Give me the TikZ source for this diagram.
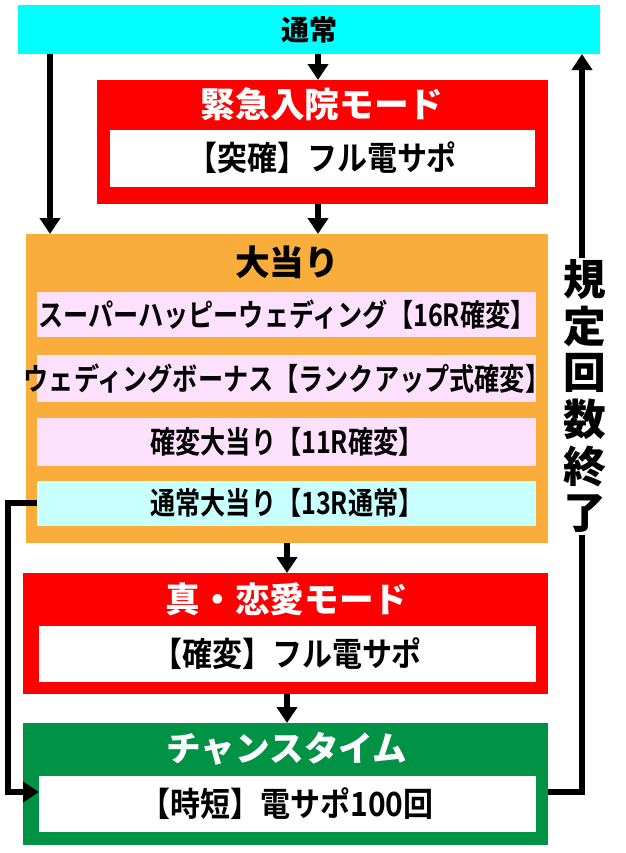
\documentclass[tikz,border=0pt]{standalone}
\usepackage{fontspec}
\newfontfamily\jp{Noto Sans CJK JP Black}
\newfontfamily\jpn[FakeStretch=0.82]{Noto Sans CJK JP Bold}
\newfontfamily\jps[FakeStretch=0.9]{Noto Sans CJK JP Bold}
\usetikzlibrary{arrows.meta}
\definecolor{cy}{HTML}{00FFFF}
\definecolor{rd}{HTML}{FF0000}
\definecolor{og}{HTML}{F9AE3C}
\definecolor{pk}{HTML}{FCE0FC}
\definecolor{lc}{HTML}{C8FFFF}
\definecolor{gr}{HTML}{009245}
\tikzset{
 ttl/.style={font=\jp\fontsize{26}{28}\selectfont,text=white},
 txt/.style={font=\jpn\fontsize{23}{26}\selectfont},
 sub/.style={font=\jps\fontsize{25}{28}\selectfont},
 arr/.style={line width=3.8pt,-{Triangle[length=12pt,width=15pt]}},
 ln/.style={line width=3.8pt}
}
\begin{document}
\begin{tikzpicture}[x=0.75pt,y=-0.75pt]
\useasboundingbox (0,0) rectangle (625,853);
% top
\fill[cy] (18,5) rectangle (600,54);
\node[font=\jp\fontsize{21}{24}\selectfont] (top) at (309,30) {通常};
\coordinate (topb) at (318,54);
\coordinate (topl) at (50,54);
\coordinate (topr) at (582,54);
% red 1
\fill[rd] (97,80) rectangle (548,204);
\node[ttl] (t1) at (322,104) {緊急入院モード};
\fill[white] (110,130) rectangle (535,187);
\node[sub] (s1) at (322,158) {【突確】フル電サポ};
\coordinate (r1t) at (318,80);
\coordinate (r1b) at (318,204);
% orange
\fill[og] (26,234) rectangle (548,543);
\node[font=\jp\fontsize{26}{28}\selectfont] (t2) at (287,262) {大当り};
\fill[pk] (37,292) rectangle (536,337);
\node[txt] (a1) at (287,315) {スーパーハッピーウェディング【16R確変】};
\fill[pk] (37,355) rectangle (536,402);
\node[txt] (a2) at (287,379) {ウェディングボーナス【ランクアップ式確変】};
\fill[pk] (37,418) rectangle (536,466);
\node[txt] (a3) at (287,442) {確変大当り【11R確変】};
\fill[lc] (37,481) rectangle (536,526);
\node[txt] (a4) at (287,503) {通常大当り【13R通常】};
\coordinate (a4l) at (37,503);
\coordinate (ot) at (318,234);
\coordinate (otl) at (50,234);
\coordinate (ob) at (287,543);
% red 2
\fill[rd] (23,573) rectangle (548,694);
\node[ttl] (t3) at (287,599) {真・恋愛モード};
\fill[white] (39,626) rectangle (536,682);
\node[sub] (s3) at (287,654) {【確変】フル電サポ};
\coordinate (r2t) at (287,573);
\coordinate (r2b) at (287,694);
% green
\fill[gr] (23,723) rectangle (548,845);
\node[ttl] (t4) at (287,749) {チャンスタイム};
\fill[white] (39,776) rectangle (536,832);
\node[sub] (s4) at (287,804) {【時短】電サポ100回};
\coordinate (gt) at (287,723);
\coordinate (gl) at (39,792);
\coordinate (gr) at (548,792);
% arrows
\draw[arr] (topb) -- (r1t);
\draw[arr] (r1b) -- (ot);
\draw[arr] (topl) -- (otl);
\draw[arr] (ob) -- (r2t);
\draw[arr] (r2b) -- (gt);
\draw[arr] (a4l) -- (8,503) -- (8,792) -- (gl);
\draw[ln] (gr) -- (582,792) -- (582,535);
\draw[arr] (582,258) -- (topr);
\node[font=\jp\fontsize{32}{35}\selectfont,align=center,inner sep=0pt] (v) at (585,396) {規\\定\\回\\数\\終\\了};
\end{tikzpicture}
\end{document}
